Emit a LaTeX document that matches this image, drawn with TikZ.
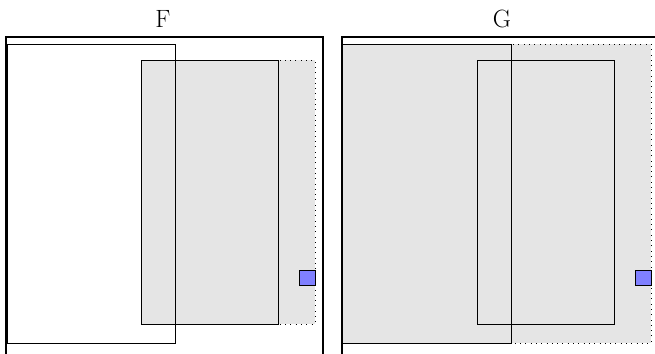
\documentclass[tikz,border=0pt]{standalone}
\usepackage{tikz}
\begin{document}
\begin{tikzpicture}[x=1pt,y=-1pt,
  frame/.style={line width=1.7pt},
  win/.style={line width=0.8pt},
  shade/.style={fill=black!10, draw, dash pattern=on 0.8pt off 4.5pt, line width=0.8pt},
  marker/.style={fill=blue!50, draw=black, line width=0.8pt},
  title/.style={font=\fontsize{25}{30}\selectfont, inner sep=0pt}]
  \useasboundingbox (0,0) rectangle (655,353);
  % left panel: F
  \node[title] (titleF) at (163,18.5) {F};
  \draw[shade] (141,60) rectangle (315,324);
  \draw[win] (7,44) rectangle (175,343);
  \draw[win] (141,60) rectangle (278,324);
  \draw[marker] (299,270) rectangle (315,285);
  \draw[frame] (6,360) |- (323,37) -- (323,360);
  % right panel: G
  \node[title] (titleG) at (502,18.5) {G};
  \draw[shade] (342,44) rectangle (651,343);
  \draw[win] (342,44) rectangle (511,343);
  \draw[win] (477,60) rectangle (614,324);
  \draw[marker] (635,270) rectangle (651,285);
  \draw[frame] (342,360) |- (665,37);
\end{tikzpicture}
\end{document}
